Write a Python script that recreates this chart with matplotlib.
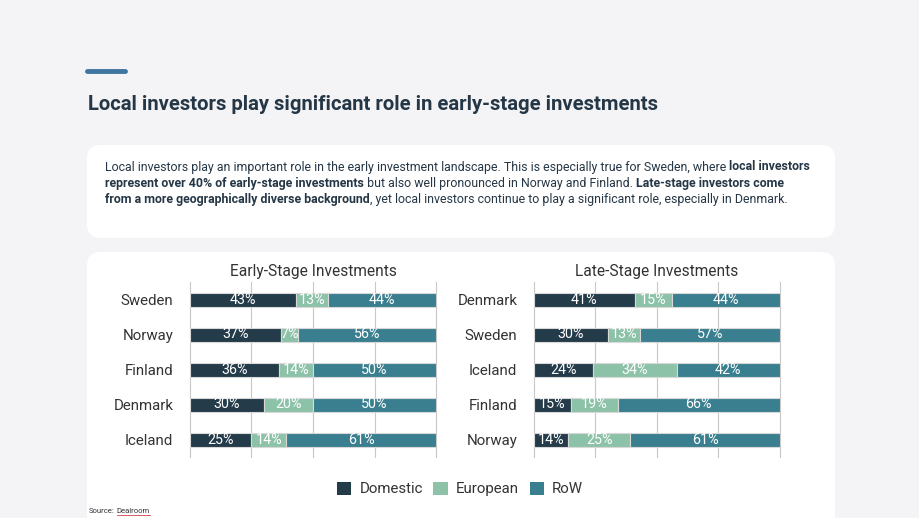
import matplotlib.pyplot as plt
from matplotlib.patches import FancyBboxPatch, Patch
import matplotlib.lines as mlines

plt.rcParams['font.family'] = ['Roboto', 'DejaVu Sans']

# data
early_countries = ["Sweden", "Norway", "Finland", "Denmark", "Iceland"]
early_domestic = [43, 37, 36, 30, 25]
early_european = [13, 7, 14, 20, 14]
early_row = [44, 56, 50, 50, 61]

late_countries = ["Denmark", "Sweden", "Iceland", "Finland", "Norway"]
late_domestic = [41, 30, 24, 15, 14]
late_european = [15, 13, 34, 19, 25]
late_row = [44, 57, 42, 66, 61]

series_names = ["Domestic", "European", "RoW"]
colors = ["#243b4a", "#8cc2a8", "#3a7f8f"]

W, H = 920, 518
fig = plt.figure(figsize=(W / 100, H / 100), dpi=100)
fig.patch.set_facecolor("#f4f4f6")

def fx(px):
    return px / W

def fy(py):
    return 1 - py / H

# accent line + title
fig.add_artist(mlines.Line2D([fx(87), fx(125)], [fy(71), fy(71)], color="#3e76a0",
                             lw=3.5, solid_capstyle="round"))
fig.text(fx(88), fy(104), "Local investors play significant role in early-stage investments",
         fontsize=14.6, fontweight="bold", color="#253746", va="center")

# white boxes (behind the axes)
for y0, y1 in [(145, 238), (252, 530)]:
    fig.add_artist(FancyBboxPatch((fx(87), fy(y1)), fx(835) - fx(87), fy(y0) - fy(y1),
                                  boxstyle="round,pad=0,rounding_size=0.015",
                                  transform=fig.transFigure, facecolor="white",
                                  edgecolor="none", mutation_aspect=W / H, zorder=-5))

# paragraph with bold segments
para = [
    [("Local investors play an important role in the early investment landscape. This is especially true for Sweden, where ", False),
     ("local investors", True)],
    [("represent over 40% of early-stage investments", True),
     (" but also well pronounced in Norway and Finland. ", False),
     ("Late-stage investors come", True)],
    [("from a more geographically diverse background", True),
     (", yet local investors continue to play a significant role, especially in Denmark.", False)],
]
renderer = fig.canvas.get_renderer()

def write_segments(x, y, segments, size, color):
    for txt, bold in segments:
        t = fig.text(x, y, txt, fontsize=size, color=color,
                     fontweight="bold" if bold else "normal", va="center")
        bb = t.get_window_extent(renderer=renderer)
        x += bb.width / W
    return x

for i, line in enumerate(para):
    write_segments(fx(105), fy(167 + 16 * i), line, 8.9, "#253746")

# source
x_end = write_segments(fx(89), fy(511), [("Source:", False)], 5.5, "#333333")
t = fig.text(x_end + fx(2), fy(511), "Dealroom", fontsize=5.5, color="#333333", va="center")
bb = t.get_window_extent(renderer=renderer)
fig.add_artist(mlines.Line2D([x_end + fx(2), x_end + fx(2) + bb.width / W], [fy(515), fy(515)],
                             color="#d04050", lw=0.6))

def draw_panel(left_px, title, countries, dom, eur, row):
    ax = fig.add_axes([fx(left_px), fy(457), 246 / W, 175 / H])
    ax.set_facecolor("white")
    y = list(range(len(countries)))
    left = [0] * len(countries)
    for vals, c in zip([dom, eur, row], colors):
        bars = ax.barh(y, vals, left=left, height=0.4, color=c, edgecolor="#d8d8d8",
                       linewidth=0.8, zorder=3)
        for b, v in zip(bars, vals):
            ax.text(b.get_x() + b.get_width() / 2, b.get_y() + b.get_height() / 2,
                    f"{v}%", color="white", fontsize=10.3, ha="center", va="center", zorder=4)
        left = [l + v for l, v in zip(left, vals)]
    ax.set_xlim(0, 100)
    ax.set_ylim(len(countries) - 0.5, -0.5)
    for g in [0, 25, 50, 75, 100]:
        ax.axvline(g, color="#c8c8c8", lw=0.8, zorder=0, clip_on=False)
    ax.set_xticks([])
    ax.tick_params(axis="y", length=0, pad=12, labelsize=10.8, labelcolor="#333333")
    ax.set_yticks(y)
    ax.set_yticklabels(countries)
    for s in ax.spines.values():
        s.set_visible(False)
    ax.set_title(title, fontsize=11.2, color="#333333", pad=4)
    return ax

draw_panel(190, "Early-Stage Investments", early_countries, early_domestic, early_european, early_row)
draw_panel(534, "Late-Stage Investments", late_countries, late_domestic, late_european, late_row)

handles = [Patch(facecolor=c, edgecolor="none") for c in colors]
fig.legend(handles, series_names, loc="center", bbox_to_anchor=(fx(460), fy(489)), ncol=3,
           frameon=False, fontsize=10.8, handlelength=0.95, handleheight=0.95,
           columnspacing=0.7, handletextpad=0.55, labelcolor="#333333")

fig.savefig("out.png", dpi=100, facecolor=fig.get_facecolor())
